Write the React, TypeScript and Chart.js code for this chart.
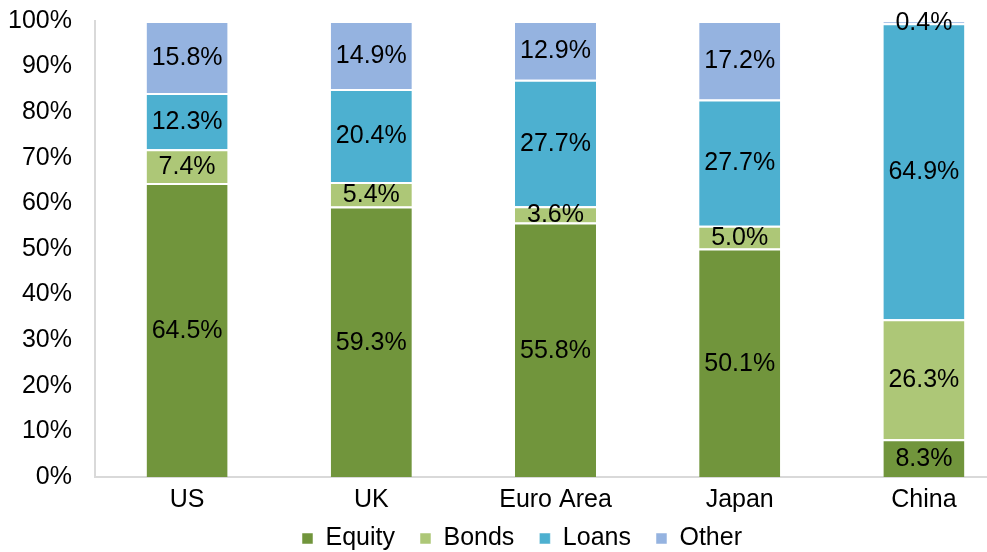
import React, { useEffect, useRef } from "react";
import { Chart, registerables } from "chart.js";

Chart.register(...registerables);

const categories = ["US", "UK", "Euro Area", "Japan", "China"];
const equity = [64.5, 59.3, 55.8, 50.1, 8.3];
const bonds = [7.4, 5.4, 3.6, 5.0, 26.3];
const loans = [12.3, 20.4, 27.7, 27.7, 64.9];
const other = [15.8, 14.9, 12.9, 17.2, 0.4];
const seriesNames = ["Equity", "Bonds", "Loans", "Other"];
const seriesColors = ["#71953C", "#ADC777", "#4DB0D0", "#95B3E0"];

const FONT = "'Liberation Sans', Arial, sans-serif";
const FS = 25;

const labelPlugin = {
  id: "segLabels",
  afterLayout(chart: any) {
    if (chart.legend) {
      chart.legend.top -= 22;
      chart.legend.left += 14;
      chart.legend.right += 14;
    }
  },
  afterDatasetsDraw(chart: any) {
    const ctx = chart.ctx;
    ctx.save();
    ctx.fillStyle = "#000";
    ctx.font = `${FS}px ${FONT}`;
    ctx.textAlign = "center";
    ctx.textBaseline = "middle";
    chart.data.datasets.forEach((ds: any, di: number) => {
      const meta = chart.getDatasetMeta(di);
      meta.data.forEach((el: any, i: number) => {
        const p = el.getProps(["x", "y", "base"], true);
        const v = ds.data[i];
        ctx.fillText(v.toFixed(1) + "%", p.x, (p.y + p.base) / 2 + 1);
      });
    });
    ctx.restore();
  },
};

export default function App() {
  const ref = useRef<HTMLCanvasElement>(null);
  useEffect(() => {
    document.body.style.overflow = "hidden";
    const series = [equity, bonds, loans, other];
    const chart = new Chart(ref.current!, {
      type: "bar",
      data: {
        labels: categories,
        datasets: series.map((d, i) => ({
          label: seriesNames[i],
          data: d,
          backgroundColor: seriesColors[i],
          borderColor: "#ffffff",
          borderWidth: { top: 2, bottom: 0, left: 0, right: 0 },
          borderSkipped: false,
          barPercentage: 0.44,
          categoryPercentage: 1,
        })),
      },
      options: {
        responsive: false,
        animation: false,
        layout: { padding: { left: 0, right: 24, top: 0, bottom: 0 } },
        scales: {
          x: {
            stacked: true,
            grid: { display: false, drawTicks: false },
            border: { display: true, color: "#d9d9d9", width: 2 },
            ticks: { color: "#000", font: { family: FONT, size: FS }, padding: 8 },
          },
          y: {
            stacked: true,
            min: 0,
            max: 100,
            grid: { display: false, drawTicks: false },
            border: { display: true, color: "#d9d9d9", width: 2 },
            ticks: {
              stepSize: 10,
              color: "#000",
              font: { family: FONT, size: FS },
              padding: 23,
              callback: (v: any) => v + "%",
            },
            afterFit: (s: any) => {
              s.width = 95;
              s.paddingTop = 21;
            },
          },
        },
        plugins: {
          legend: {
            position: "bottom",
            maxHeight: 29,
            labels: {
              color: "#000",
              font: { family: FONT, size: FS },
              boxWidth: 11,
              boxHeight: 11,
              padding: 25,
            },
          },
          tooltip: { enabled: false },
        },
      },
      plugins: [labelPlugin],
    });
    return () => chart.destroy();
  }, []);
  return (
    <div style={{ position: "fixed", left: 0, top: 0, width: 987, height: 552, overflow: "hidden", background: "#fff" }}>
      <canvas ref={ref} width={1040} height={552} style={{ display: "block" }} />
    </div>
  );
}
